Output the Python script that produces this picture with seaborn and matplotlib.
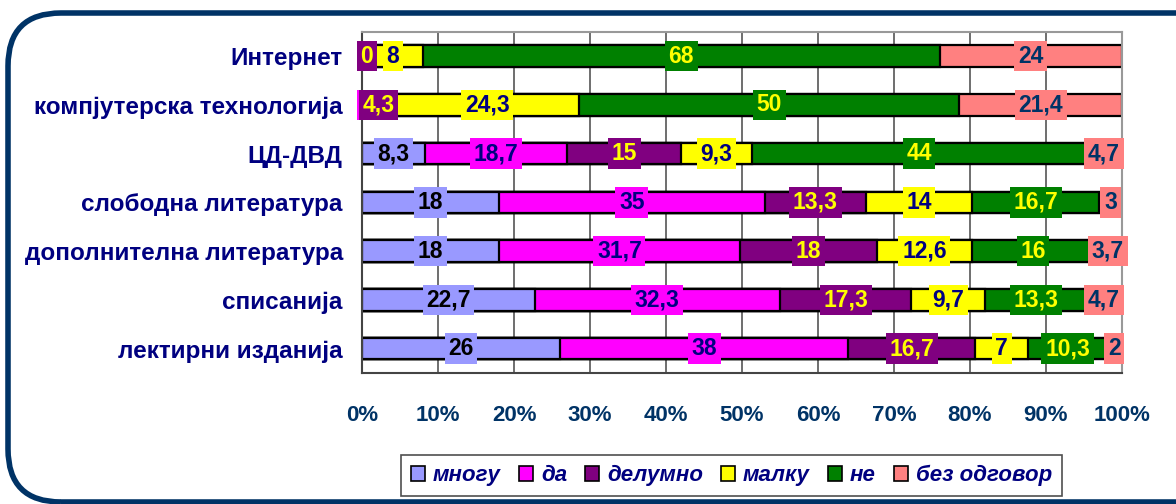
import numpy as np
import pandas as pd
import matplotlib.pyplot as plt
import seaborn as sns
from matplotlib.patches import FancyBboxPatch, Patch

sns.set_style('white')
plt.rcParams['font.family'] = ['Liberation Sans', 'DejaVu Sans']

categories = ['Интернет', 'компјутерска технологија', 'ЦД-ДВД', 'слободна литература',
              'дополнителна литература', 'списанија', 'лектирни изданија']
series = ['многу', 'да', 'делумно', 'малку', 'не', 'без одговор']

mnogu = [0, 0, 8.3, 18, 18, 22.7, 26]
da = [0, 0, 18.7, 35, 31.7, 32.3, 38]
delumno = [0, 4.3, 15, 13.3, 18, 17.3, 16.7]
malku = [8, 24.3, 9.3, 14, 12.6, 9.7, 7]
ne = [68, 50, 44, 16.7, 16, 13.3, 10.3]
bez = [24, 21.4, 4.7, 3, 3.7, 4.7, 2]

colors = ['#9999FF', '#FF00FF', '#800080', '#FFFF00', '#008000', '#FF8080']
text_colors = ['#000000', '#000080', '#FFFF00', '#000080', '#FFFF00', '#003366']

df = pd.DataFrame(dict(zip(series, [mnogu, da, delumno, malku, ne, bez])), index=categories)
cum = df.cumsum(axis=1)

fig = plt.figure(figsize=(11.76, 5.04), dpi=100)
ax = fig.add_axes([0.308, 0.26, 0.646, 0.677])

# draw cumulative bars from last to first so the stack shows through
for i in range(len(series) - 1, -1, -1):
    d = pd.DataFrame({'cat': categories, 'val': cum[series[i]].values})
    sns.barplot(data=d, y='cat', x='val', orient='h', color=colors[i], saturation=1,
                width=0.44, edgecolor='black', linewidth=1.6, ax=ax, zorder=2)

# value labels (zero labels that Excel shows are kept too)
shown_zero = {('Интернет', 'да'), ('Интернет', 'делумно'), ('компјутерска технологија', 'да')}
for i, s in enumerate(series):
    left = cum[s] - df[s]
    for j, cat in enumerate(categories):
        v = df.loc[cat, s]
        if v == 0 and (cat, s) not in shown_zero:
            continue
        xc = left[cat] + v / 2
        if v == 0:
            xc = left[cat] + 0.6
        lab = ('%g' % v).replace('.', ',')
        ax.text(xc, j, lab, ha='center', va='center', fontsize=16.5, fontweight='bold',
                color=text_colors[i], zorder=5,
                bbox=dict(boxstyle='square,pad=0.16', facecolor=colors[i], edgecolor='none'))

ax.set_xlim(0, 100)
ax.set_ylim(len(categories) - 0.5, -0.5)
ax.set_xticks(np.arange(0, 101, 10))
ax.set_xticklabels(['%d%%' % t for t in range(0, 101, 10)])
ax.set_xlabel('')
ax.set_ylabel('')
ax.xaxis.grid(True, color='#555555', linewidth=1.2, zorder=0)
ax.set_axisbelow(True)
for sp in ['top', 'right']:
    ax.spines[sp].set_color('#999999')
    ax.spines[sp].set_linewidth(1.5)
ax.spines['left'].set_color('#444444')
ax.spines['bottom'].set_color('#444444')
ax.spines['left'].set_linewidth(1.5)
ax.spines['bottom'].set_linewidth(1.5)

ax.tick_params(axis='x', colors='#444444', length=7, width=1.2, pad=16)
for t in ax.get_xticklabels():
    t.set_color('#003366')
    t.set_fontsize(16)
    t.set_fontweight('bold')
ax.tick_params(axis='y', length=0, pad=14)
for t in ax.get_yticklabels():
    t.set_color('#000080')
    t.set_fontsize(17.5)
    t.set_fontweight('bold')
# small ticks between categories
ax.set_yticks(np.arange(-0.5, len(categories), 1), minor=True)
ax.tick_params(axis='y', which='minor', length=6, width=1.2, color='#444444')

handles = [Patch(facecolor=c, edgecolor='black', linewidth=1.2) for c in colors]
leg = fig.legend(handles, series, loc='center', bbox_to_anchor=(0.622, 0.056), ncol=6,
                 frameon=True, fancybox=False, handlelength=0.65, handleheight=0.65,
                 handletextpad=0.35, columnspacing=0.8, borderpad=0.45,
                 prop=dict(size=16, weight='bold', style='italic'))
leg.get_frame().set_edgecolor('#222222')
leg.get_frame().set_linewidth(1.2)
for t in leg.get_texts():
    t.set_color('#000080')

frame = FancyBboxPatch((8 / 1176, 2 / 504), 1.05, 489 / 504, boxstyle='round,pad=0,rounding_size=0.045',
                       transform=fig.transFigure, facecolor='none', edgecolor='#003366',
                       linewidth=4, mutation_aspect=1176 / 504, zorder=-1)
fig.patches.append(frame)

fig.savefig('out.png', dpi=100)
